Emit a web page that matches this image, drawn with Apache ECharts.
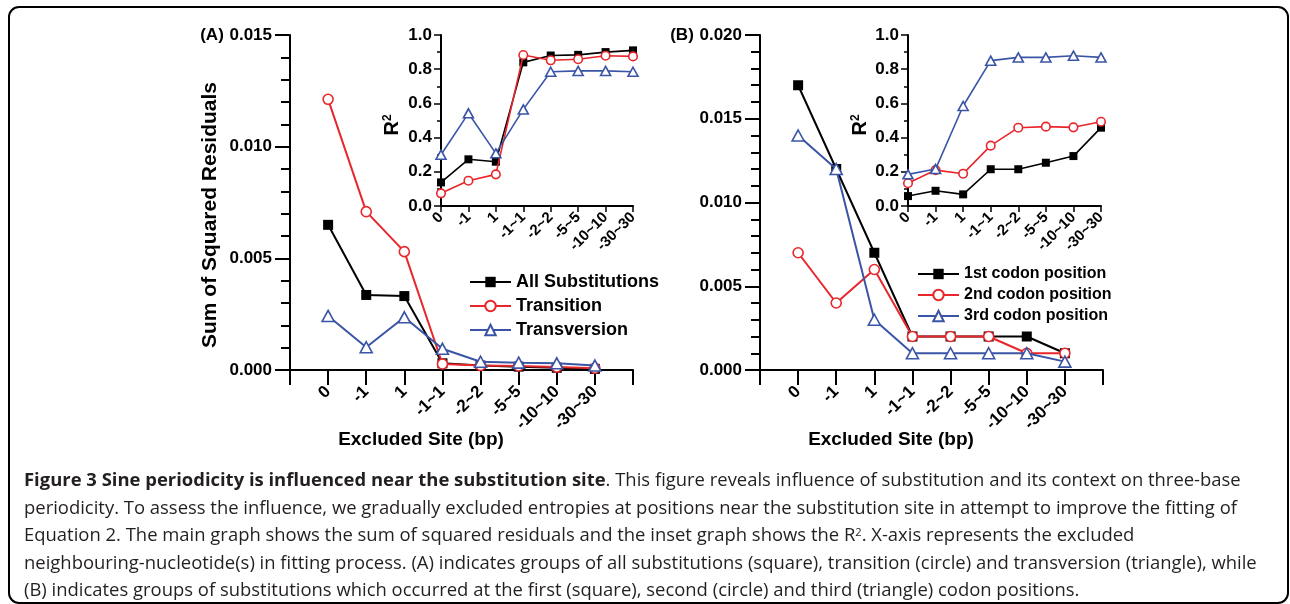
<!DOCTYPE html>
<html><head><meta charset="utf-8">
<script src="https://cdn.jsdelivr.net/npm/echarts@6/dist/echarts.min.js"></script>
<style>html,body{margin:0;padding:0;background:#fff}#c{width:1290px;height:604px}</style>
</head><body><div id="c"></div>
<script>
// ---------- data ----------
const categories = ['0', '-1', '1', '-1~1', '-2~2', '-5~5', '-10~10', '-30~30'];
const namesA = ['All Substitutions', 'Transition', 'Transversion'];
const namesB = ['1st codon position', '2nd codon position', '3rd codon position'];

// Panel A: sum of squared residuals
const ssrA_all = [0.0065, 0.00336, 0.00331, 0.0003, 0.0002, 0.00015, 0.0001, 0.00005];
const ssrA_ts  = [0.01212, 0.00709, 0.0053, 0.00027, 0.0002, 0.00018, 0.00013, 0.00008];
const ssrA_tv  = [0.00242, 0.00102, 0.00236, 0.00095, 0.00037, 0.00033, 0.0003, 0.0002];
// Panel A inset: R^2
const r2A_all = [0.138, 0.273, 0.259, 0.84, 0.88, 0.884, 0.90, 0.91];
const r2A_ts  = [0.074, 0.148, 0.185, 0.883, 0.852, 0.858, 0.879, 0.875];
const r2A_tv  = [0.30, 0.542, 0.308, 0.565, 0.785, 0.79, 0.79, 0.785];
// Panel B: sum of squared residuals
const ssrB_1 = [0.017, 0.012, 0.007, 0.002, 0.002, 0.002, 0.002, 0.001];
const ssrB_2 = [0.007, 0.004, 0.006, 0.002, 0.002, 0.002, 0.001, 0.001];
const ssrB_3 = [0.014, 0.012, 0.003, 0.001, 0.001, 0.001, 0.001, 0.0005];
// Panel B inset: R^2
const r2B_1 = [0.058, 0.089, 0.068, 0.215, 0.215, 0.253, 0.292, 0.458];
const r2B_2 = [0.133, 0.21, 0.189, 0.353, 0.458, 0.464, 0.46, 0.493];
const r2B_3 = [0.185, 0.216, 0.585, 0.85, 0.869, 0.869, 0.879, 0.869];

const captionBold = 'Figure 3 Sine periodicity is influenced near the substitution site';
const captionLines = [
  '. This figure reveals influence of substitution and its context on three-base',
  'periodicity. To assess the influence, we gradually excluded entropies at positions near the substitution site in attempt to improve the fitting of',
  'Equation 2. The main graph shows the sum of squared residuals and the inset graph shows the R{sup|2}. X-axis represents the excluded',
  'neighbouring-nucleotide(s) in fitting process. (A) indicates groups of all substitutions (square), transition (circle) and transversion (triangle), while',
  '(B) indicates groups of substitutions which occurred at the first (square), second (circle) and third (triangle) codon positions.'
];

// ---------- styles ----------
const BLACK = '#000', RED = '#e8262b', BLUE = '#3a55a5';
const FONT = '"Liberation Sans", Arial, sans-serif';
const CAPFONT = '"Open Sans", sans-serif';

function mainX(gi) {
  return {
    gridIndex: gi, type: 'value', min: 0, max: 9, interval: 1,
    axisLine: { show: true, onZero: false, lineStyle: { color: BLACK, width: 2 } },
    axisTick: { show: true, length: 15, lineStyle: { color: BLACK, width: 2 } },
    axisLabel: { rotate: 45, margin: 19, fontSize: 17, fontWeight: 'bold', fontFamily: FONT, color: BLACK,
      formatter: v => categories[v - 1] || '' },
    splitLine: { show: false }
  };
}
function insetX(gi) {
  return {
    gridIndex: gi, type: 'value', min: 0, max: 7, interval: 1,
    axisLine: { show: true, onZero: false, lineStyle: { color: BLACK, width: 2 } },
    axisTick: { show: true, length: 6, lineStyle: { color: BLACK, width: 1.5 } },
    axisLabel: { rotate: 45, margin: 9, fontSize: 15, fontWeight: 'bold', fontFamily: FONT, color: BLACK,
      formatter: v => categories[v] || '' },
    splitLine: { show: false }
  };
}
function mainY(gi, max) {
  return {
    gridIndex: gi, type: 'value', min: 0, max: max, interval: 0.005,
    axisLine: { show: true, onZero: false, lineStyle: { color: BLACK, width: 2 } },
    axisTick: { show: true, length: 15, lineStyle: { color: BLACK, width: 2 } },
    minorTick: { show: true, splitNumber: 5, length: 9, lineStyle: { color: BLACK, width: 2 } },
    axisLabel: { margin: 18, fontSize: 17, fontWeight: 'bold', fontFamily: FONT, color: BLACK,
      formatter: v => v.toFixed(3) },
    splitLine: { show: false }, minorSplitLine: { show: false }
  };
}
function insetY(gi) {
  return {
    gridIndex: gi, type: 'value', min: 0, max: 1, interval: 0.2,
    axisLine: { show: true, onZero: false, lineStyle: { color: BLACK, width: 2 } },
    axisTick: { show: true, length: 7, lineStyle: { color: BLACK, width: 1.5 } },
    minorTick: { show: true, splitNumber: 2, length: 4, lineStyle: { color: BLACK, width: 1.5 } },
    axisLabel: { margin: 9, fontSize: 17, fontWeight: 'bold', fontFamily: FONT, color: BLACK,
      formatter: v => v.toFixed(1) },
    splitLine: { show: false }, minorSplitLine: { show: false }
  };
}

const kinds = [
  { symbol: 'rect', line: BLACK, item: { color: BLACK, borderColor: BLACK, borderWidth: 0 }, main: 10, inset: 8 },
  { symbol: 'circle', line: RED, item: { color: '#fff', borderColor: RED, borderWidth: 1.6 }, main: 10, inset: 8.5 },
  { symbol: 'triangle', line: BLUE, item: { color: '#fff', borderColor: BLUE, borderWidth: 1.6 }, main: [12, 11], inset: [10, 9] }
];

function ser(name, vals, k, axisIdx, isMain) {
  const kind = kinds[k];
  return {
    type: 'line', name: name, xAxisIndex: axisIdx, yAxisIndex: axisIdx,
    data: vals.map((v, i) => [isMain ? i + 1 : i, v]),
    symbol: kind.symbol, symbolSize: isMain ? kind.main : kind.inset,
    showAllSymbol: true, clip: true, z: 2 + k,
    lineStyle: { color: kind.line, width: isMain ? 2 : 1.6 },
    itemStyle: Object.assign({}, kind.item),
    emphasis: { disabled: true }, animation: false
  };
}

// ---------- caption measurement ----------
const ctx = document.createElement('canvas').getContext('2d');
function tw(txt, weight, size) { ctx.font = weight + ' ' + size + 'px ' + CAPFONT; return ctx.measureText(txt).width; }
const capX = 24;
const capFs = Math.min(19, Math.max(14, (1258 - capX) / tw(captionLines[3], 400, 100) * 100));
const capYs = [481, 508.5, 536, 563.5, 591];
const boldW = tw(captionBold, 700, capFs);

const capGraphics = [
  { type: 'text', x: capX, y: capYs[0], silent: true,
    style: { text: captionBold, fontSize: capFs, fontWeight: 'bold', fontFamily: CAPFONT, fill: '#231f20', align: 'left', verticalAlign: 'middle' } }
];
captionLines.forEach((t, i) => {
  capGraphics.push({
    type: 'text', x: i === 0 ? capX + boldW : capX, y: capYs[i], silent: true,
    style: { text: t, fontSize: capFs, fontFamily: CAPFONT, fill: '#231f20', align: 'left', verticalAlign: 'middle',
      rich: { sup: { fontSize: capFs * 0.6, fontFamily: CAPFONT, fill: '#231f20', verticalAlign: 'top' } } }
  });
});

function r2Label(x, y) {
  return { type: 'text', x: x, y: y, rotation: Math.PI / 2, silent: true,
    style: { text: '{r|R}{s|2}', align: 'center', verticalAlign: 'middle',
      rich: { r: { fontSize: 20, fontWeight: 'bold', fontFamily: FONT, fill: BLACK, verticalAlign: 'bottom' },
              s: { fontSize: 12, fontWeight: 'bold', fontFamily: FONT, fill: BLACK, verticalAlign: 'top' } } } };
}
function plain(text, x, y, size, rot) {
  return { type: 'text', x: x, y: y, rotation: rot || 0, silent: true,
    style: { text: text, fontSize: size, fontWeight: 'bold', fontFamily: FONT, fill: BLACK, align: 'center', verticalAlign: 'middle' } };
}

const option = {
  animation: false,
  backgroundColor: '#fff',
  grid: [
    { left: 290, top: 35, width: 343, height: 335 },
    { left: 441, top: 35, width: 192, height: 171 },
    { left: 760, top: 35, width: 343, height: 335 },
    { left: 908, top: 35, width: 193, height: 171 }
  ],
  xAxis: [mainX(0), insetX(1), mainX(2), insetX(3)],
  yAxis: [mainY(0, 0.015), insetY(1), mainY(2, 0.02), insetY(3)],
  legend: [
    { left: 464, top: 268, orient: 'vertical', itemWidth: 41, itemHeight: 13, itemGap: 6, selectedMode: false,
      data: namesA, textStyle: { fontSize: 18, fontWeight: 'bold', fontFamily: FONT, color: BLACK } },
    { left: 912, top: 261, orient: 'vertical', itemWidth: 41, itemHeight: 13, itemGap: 5, selectedMode: false,
      data: namesB, textStyle: { fontSize: 16, fontWeight: 'bold', fontFamily: FONT, color: BLACK } }
  ],
  series: [
    ser(namesA[0], ssrA_all, 0, 0, true),
    ser(namesA[1], ssrA_ts, 1, 0, true),
    ser(namesA[2], ssrA_tv, 2, 0, true),
    ser(namesA[0], r2A_all, 0, 1, false),
    ser(namesA[1], r2A_ts, 1, 1, false),
    ser(namesA[2], r2A_tv, 2, 1, false),
    ser(namesB[0], ssrB_1, 0, 2, true),
    ser(namesB[1], ssrB_2, 1, 2, true),
    ser(namesB[2], ssrB_3, 2, 2, true),
    ser(namesB[0], r2B_1, 0, 3, false),
    ser(namesB[1], r2B_2, 1, 3, false),
    ser(namesB[2], r2B_3, 2, 3, false)
  ],
  graphic: [
    { type: 'rect', silent: true, shape: { x: 9, y: 7, width: 1279, height: 596, r: 10 },
      style: { fill: 'none', stroke: BLACK, lineWidth: 2 } },
    plain('(A)', 212, 35, 17),
    plain('(B)', 682, 35, 17),
    plain('Sum of Squared Residuals', 210, 215, 21, Math.PI / 2),
    plain('Excluded Site (bp)', 421, 440, 19),
    plain('Excluded Site (bp)', 891, 440, 19),
    r2Label(392, 125),
    r2Label(860, 125)
  ].concat(capGraphics)
};

const chart = echarts.init(document.getElementById('c'), null, { renderer: 'canvas' });
chart.setOption(option);
</script>
</body></html>
